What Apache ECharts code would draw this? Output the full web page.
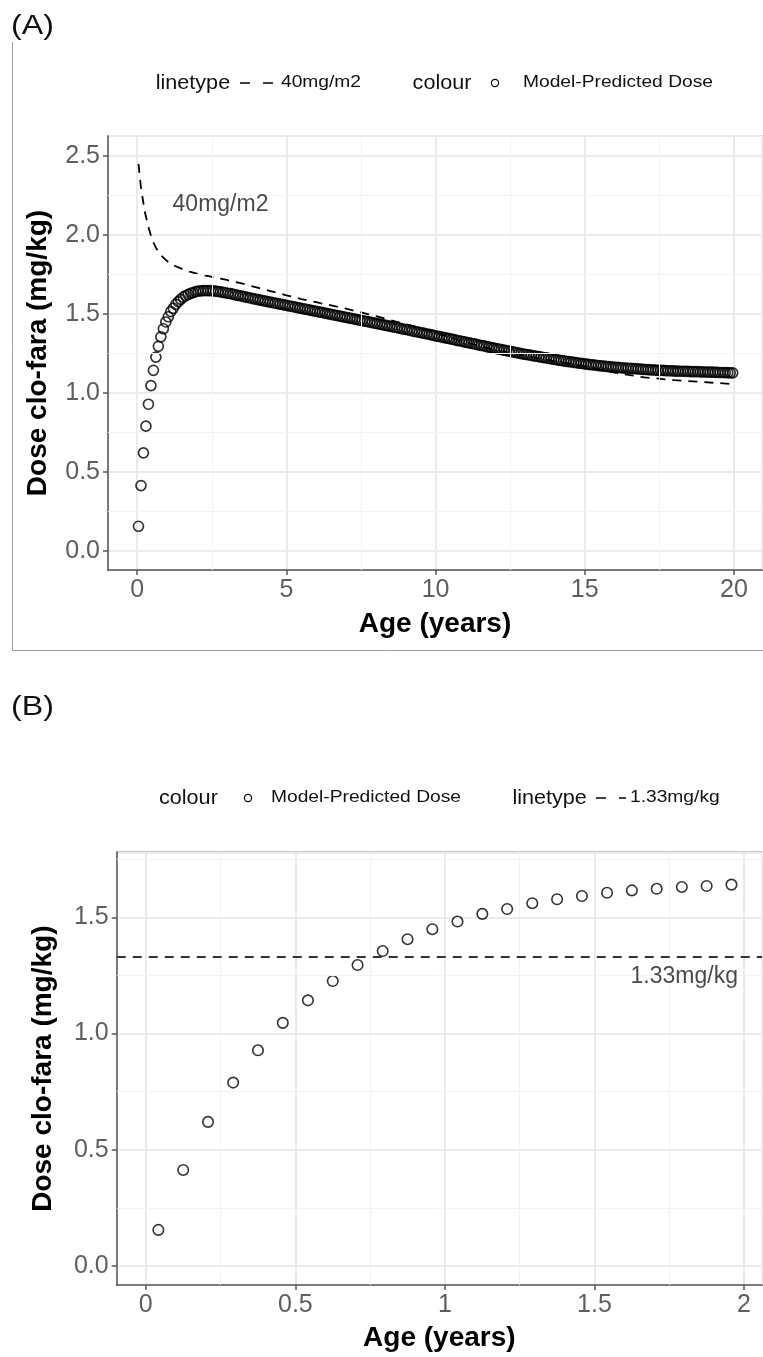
<!DOCTYPE html>
<html>
<head>
<meta charset="utf-8">
<script src="https://cdn.jsdelivr.net/npm/echarts@6/dist/echarts.min.js"></script>
<style>
  html, body { margin: 0; padding: 0; background: #fff; }
  #chart { width: 763px; height: 1357px; }
</style>
</head>
<body>
<div id="chart"></div>
<script>
// monthly ages (years) of the model predictions
const ageA = [
  0.042, 0.125, 0.208, 0.292, 0.375, 0.458, 0.542, 0.625, 0.708, 0.792, 0.875, 0.958,
  1.042, 1.125, 1.208, 1.292, 1.375, 1.458, 1.542, 1.625, 1.708, 1.792, 1.875, 1.958,
  2.042, 2.125, 2.208, 2.292, 2.375, 2.458, 2.542, 2.625, 2.708, 2.792, 2.875, 2.958,
  3.042, 3.125, 3.208, 3.292, 3.375, 3.458, 3.542, 3.625, 3.708, 3.792, 3.875, 3.958,
  4.042, 4.125, 4.208, 4.292, 4.375, 4.458, 4.542, 4.625, 4.708, 4.792, 4.875, 4.958,
  5.042, 5.125, 5.208, 5.292, 5.375, 5.458, 5.542, 5.625, 5.708, 5.792, 5.875, 5.958,
  6.042, 6.125, 6.208, 6.292, 6.375, 6.458, 6.542, 6.625, 6.708, 6.792, 6.875, 6.958,
  7.042, 7.125, 7.208, 7.292, 7.375, 7.458, 7.542, 7.625, 7.708, 7.792, 7.875, 7.958,
  8.042, 8.125, 8.208, 8.292, 8.375, 8.458, 8.542, 8.625, 8.708, 8.792, 8.875, 8.958,
  9.042, 9.125, 9.208, 9.292, 9.375, 9.458, 9.542, 9.625, 9.708, 9.792, 9.875, 9.958,
  10.042, 10.125, 10.208, 10.292, 10.375, 10.458, 10.542, 10.625, 10.708, 10.792, 10.875, 10.958,
  11.042, 11.125, 11.208, 11.292, 11.375, 11.458, 11.542, 11.625, 11.708, 11.792, 11.875, 11.958,
  12.042, 12.125, 12.208, 12.292, 12.375, 12.458, 12.542, 12.625, 12.708, 12.792, 12.875, 12.958,
  13.042, 13.125, 13.208, 13.292, 13.375, 13.458, 13.542, 13.625, 13.708, 13.792, 13.875, 13.958,
  14.042, 14.125, 14.208, 14.292, 14.375, 14.458, 14.542, 14.625, 14.708, 14.792, 14.875, 14.958,
  15.042, 15.125, 15.208, 15.292, 15.375, 15.458, 15.542, 15.625, 15.708, 15.792, 15.875, 15.958,
  16.042, 16.125, 16.208, 16.292, 16.375, 16.458, 16.542, 16.625, 16.708, 16.792, 16.875, 16.958,
  17.042, 17.125, 17.208, 17.292, 17.375, 17.458, 17.542, 17.625, 17.708, 17.792, 17.875, 17.958,
  18.042, 18.125, 18.208, 18.292, 18.375, 18.458, 18.542, 18.625, 18.708, 18.792, 18.875, 18.958,
  19.042, 19.125, 19.208, 19.292, 19.375, 19.458, 19.542, 19.625, 19.708, 19.792, 19.875, 19.958
];

// model-predicted dose (mg/kg), first two years (also panel B)
const doseFirst2y = [
  0.155, 0.413, 0.620, 0.789, 0.928, 1.046, 1.143, 1.226, 1.295, 1.355, 1.406, 1.449,
  1.482, 1.515, 1.536, 1.561, 1.578, 1.592, 1.606, 1.616, 1.623, 1.631, 1.635, 1.641
];

// model-predicted dose (mg/kg), 2 to 20 years
const doseAfter2y = [
  1.644, 1.646, 1.647, 1.648, 1.648, 1.647, 1.646, 1.644, 1.642, 1.640, 1.637, 1.634,
  1.631, 1.628, 1.625, 1.621, 1.618, 1.615, 1.611, 1.608, 1.604, 1.601, 1.597, 1.594,
  1.591, 1.587, 1.584, 1.581, 1.578, 1.575, 1.571, 1.568, 1.565, 1.562, 1.559, 1.556,
  1.553, 1.550, 1.547, 1.543, 1.540, 1.537, 1.534, 1.531, 1.528, 1.524, 1.521, 1.518,
  1.515, 1.512, 1.509, 1.505, 1.502, 1.499, 1.496, 1.493, 1.490, 1.486, 1.483, 1.480,
  1.477, 1.474, 1.471, 1.467, 1.464, 1.461, 1.458, 1.455, 1.452, 1.448, 1.445, 1.442,
  1.439, 1.436, 1.432, 1.429, 1.426, 1.423, 1.419, 1.416, 1.413, 1.410, 1.406, 1.403,
  1.400, 1.397, 1.393, 1.390, 1.387, 1.383, 1.380, 1.377, 1.373, 1.370, 1.367, 1.363,
  1.360, 1.357, 1.353, 1.350, 1.347, 1.343, 1.340, 1.337, 1.333, 1.330, 1.327, 1.323,
  1.320, 1.317, 1.313, 1.310, 1.307, 1.303, 1.300, 1.297, 1.293, 1.290, 1.287, 1.283,
  1.280, 1.277, 1.274, 1.271, 1.268, 1.264, 1.261, 1.258, 1.255, 1.252, 1.249, 1.246,
  1.243, 1.240, 1.237, 1.234, 1.232, 1.229, 1.226, 1.223, 1.221, 1.218, 1.215, 1.213,
  1.210, 1.208, 1.205, 1.203, 1.200, 1.198, 1.196, 1.193, 1.191, 1.189, 1.187, 1.185,
  1.182, 1.180, 1.178, 1.177, 1.175, 1.173, 1.171, 1.170, 1.168, 1.166, 1.165, 1.163,
  1.162, 1.161, 1.159, 1.158, 1.157, 1.156, 1.155, 1.154, 1.153, 1.151, 1.150, 1.149,
  1.148, 1.147, 1.146, 1.145, 1.144, 1.143, 1.143, 1.142, 1.141, 1.140, 1.140, 1.139,
  1.138, 1.138, 1.137, 1.137, 1.136, 1.136, 1.135, 1.135, 1.134, 1.134, 1.133, 1.133,
  1.132, 1.132, 1.131, 1.131, 1.130, 1.130, 1.129, 1.129, 1.128, 1.128, 1.127, 1.127
];

// 40 mg/m2 dose converted to mg/kg (dashed line, panel A)
const refAgeA = [0.042, 0.125, 0.25, 0.375, 0.5, 0.625, 0.75, 1.0, 1.25, 1.5, 1.75, 2.0, 2.5, 3.0, 3.5, 4.0,
  4.5, 5.0, 5.5, 6.0, 6.5, 7.0, 7.5, 8.0, 8.5, 9.0, 9.5, 10.0, 10.5, 11, 12, 13, 14, 15, 16, 17, 18, 19, 19.958];
const refDoseA = [2.45, 2.30, 2.15, 2.05, 1.97, 1.92, 1.88, 1.835, 1.805, 1.785, 1.768, 1.755, 1.735, 1.715, 1.693, 1.668,
  1.643, 1.618, 1.594, 1.574, 1.554, 1.533, 1.51, 1.486, 1.46, 1.435, 1.41, 1.38, 1.35, 1.32, 1.272, 1.235, 1.2, 1.168, 1.128, 1.098, 1.081, 1.068, 1.056];

// flat 1.33 mg/kg dose (panel B)
const refLevelB = 1.33;

// minor grid positions
const minorXA = [2.5, 7.5, 12.5, 17.5];
const minorYA = [0.25, 0.75, 1.25, 1.75, 2.25];
const minorXB = [0.25, 0.75, 1.25, 1.75];
const minorYB = [0.25, 0.75, 1.25, 1.75];

const FONT = "'Liberation Sans', Arial, Helvetica, sans-serif";
const zip = (xs, ys) => xs.map((x, i) => [x, ys[i]]);
const doseA = doseFirst2y.concat(doseAfter2y);
const ageB = ageA.slice(0, doseFirst2y.length);

function valueAxis(grid, min, max, split, name, gap, fmt) {
  return {
    type: 'value', gridIndex: grid, min: min, max: max, splitNumber: split,
    name: name, nameLocation: 'middle', nameGap: gap,
    nameTextStyle: { fontSize: 28, fontWeight: 'bold', color: '#000', fontFamily: FONT },
    axisLine: { show: true, onZero: false, lineStyle: { color: '#555', width: 1.5 } },
    axisTick: { show: true, length: 5, lineStyle: { color: '#555', width: 1.5 } },
    axisLabel: { showMinLabel: false, showMaxLabel: false, fontSize: 25, color: '#5e5e5e',
      margin: 8, fontFamily: FONT, formatter: fmt },
    splitLine: { show: true, lineStyle: { color: '#ebebeb', width: 2 } }
  };
}

function minorGrid(ax, xs, ys) {
  return {
    type: 'line', xAxisIndex: ax, yAxisIndex: ax, data: [], silent: true, z: 1,
    markLine: {
      silent: true, animation: false, symbol: ['none', 'none'], label: { show: false },
      lineStyle: { color: '#f2f2f2', width: 1, type: 'solid' },
      emphasis: { disabled: true },
      data: xs.map(v => ({ xAxis: v })).concat(ys.map(v => ({ yAxis: v })))
    }
  };
}

function note(ax, x, y, text) {
  return {
    type: 'scatter', xAxisIndex: ax, yAxisIndex: ax, data: [[x, y]], symbolSize: 1, silent: true, z: 6,
    itemStyle: { color: 'rgba(0,0,0,0)' },
    label: { show: true, position: 'inside', formatter: text, fontSize: 23, color: '#1a1a1a', fontFamily: FONT }
  };
}

function txt(s, x, y, size, sx) {
  return { type: 'text', x: x, y: y, scaleX: sx,
    style: { text: s, fontSize: size, fontFamily: FONT, fill: '#111', align: 'left', verticalAlign: 'middle' } };
}
function keyCircle(cx, cy) {
  return { type: 'circle', shape: { cx: cx, cy: cy, r: 3.6 }, style: { fill: null, stroke: '#000', lineWidth: 1.2 } };
}
function keyDash(x1, x2, y) {
  return { type: 'line', shape: { x1: x1, y1: y, x2: x2, y2: y }, style: { stroke: '#000', lineWidth: 1.6, lineDash: [10, 13] } };
}

const oneDec = v => v.toFixed(1);

const chart = echarts.init(document.getElementById('chart'));
chart.setOption({
  animation: false,
  backgroundColor: '#fff',
  grid: [
    { left: 108, top: 136, right: 1, height: 434, show: true, borderColor: '#8c8c8c', borderWidth: 1.5 },
    { left: 116.7, top: 852.3, right: 1, height: 432.7, show: true, borderColor: '#8c8c8c', borderWidth: 1.5 }
  ],
  xAxis: [
    valueAxis(0, -0.98, 20.94, 5, 'Age (years)', 40),
    valueAxis(1, -0.0973, 2.06, 5, 'Age (years)', 39)
  ],
  yAxis: [
    valueAxis(0, -0.122, 2.627, 5, 'Dose clo-fara (mg/kg)', 56, oneDec),
    valueAxis(1, -0.082, 1.78, 4, 'Dose clo-fara (mg/kg)', 59, oneDec)
  ],
  series: [
    minorGrid(0, minorXA, minorYA),
    {
      name: '40mg/m2', type: 'line', xAxisIndex: 0, yAxisIndex: 0, z: 3,
      data: zip(refAgeA, refDoseA), symbol: 'none', smooth: false,
      lineStyle: { color: '#000', width: 1.8, type: [9, 7] }
    },
    {
      name: 'Model-Predicted Dose', type: 'scatter', xAxisIndex: 0, yAxisIndex: 0, z: 4,
      data: zip(ageA, doseA), symbol: 'circle', symbolSize: 10,
      itemStyle: { color: 'rgba(0,0,0,0)', borderColor: '#000', borderWidth: 1.7 }
    },
    note(0, 2.79, 2.19, '40mg/m2'),

    minorGrid(1, minorXB, minorYB),
    {
      name: 'Model-Predicted Dose', type: 'scatter', xAxisIndex: 1, yAxisIndex: 1, z: 4,
      data: zip(ageB, doseFirst2y), symbol: 'circle', symbolSize: 10.5,
      itemStyle: { color: 'rgba(0,0,0,0)', borderColor: '#000', borderWidth: 1.6 }
    },
    {
      name: '1.33mg/kg', type: 'line', xAxisIndex: 1, yAxisIndex: 1, data: [], z: 3,
      lineStyle: { color: '#333', width: 2.2, type: [9, 7] },
      markLine: {
        silent: true, animation: false, symbol: ['none', 'none'], label: { show: false },
        lineStyle: { color: '#333', width: 2.2, type: [9, 7] },
        emphasis: { disabled: true },
        data: [{ yAxis: refLevelB }]
      }
    },
    note(1, 1.80, 1.243, '1.33mg/kg')
  ],
  graphic: [
    { type: 'polyline', silent: true, shape: { points: [[12.5, 42], [12.5, 650.5], [763, 650.5]] },
      style: { stroke: '#a0a0a0', fill: null, lineWidth: 1 } },
    txt('(A)', 11, 26, 28, 1.15),
    txt('(B)', 11, 707, 28, 1.15),
    // panel A legend
    txt('linetype', 155.7, 83, 20, 1.08),
    keyDash(240, 273, 83),
    txt('40mg/m2', 281, 83, 16, 1.2),
    txt('colour', 412.6, 83, 20, 1.08),
    keyCircle(495, 83),
    txt('Model-Predicted Dose', 523, 83, 16, 1.2),
    // panel B legend
    txt('colour', 159, 798, 20, 1.08),
    keyCircle(248, 798),
    txt('Model-Predicted Dose', 271, 798, 16, 1.2),
    txt('linetype', 512.4, 798, 20, 1.08),
    keyDash(596, 626, 798),
    txt('1.33mg/kg', 630, 798, 16, 1.2)
  ]
});
</script>
</body>
</html>
